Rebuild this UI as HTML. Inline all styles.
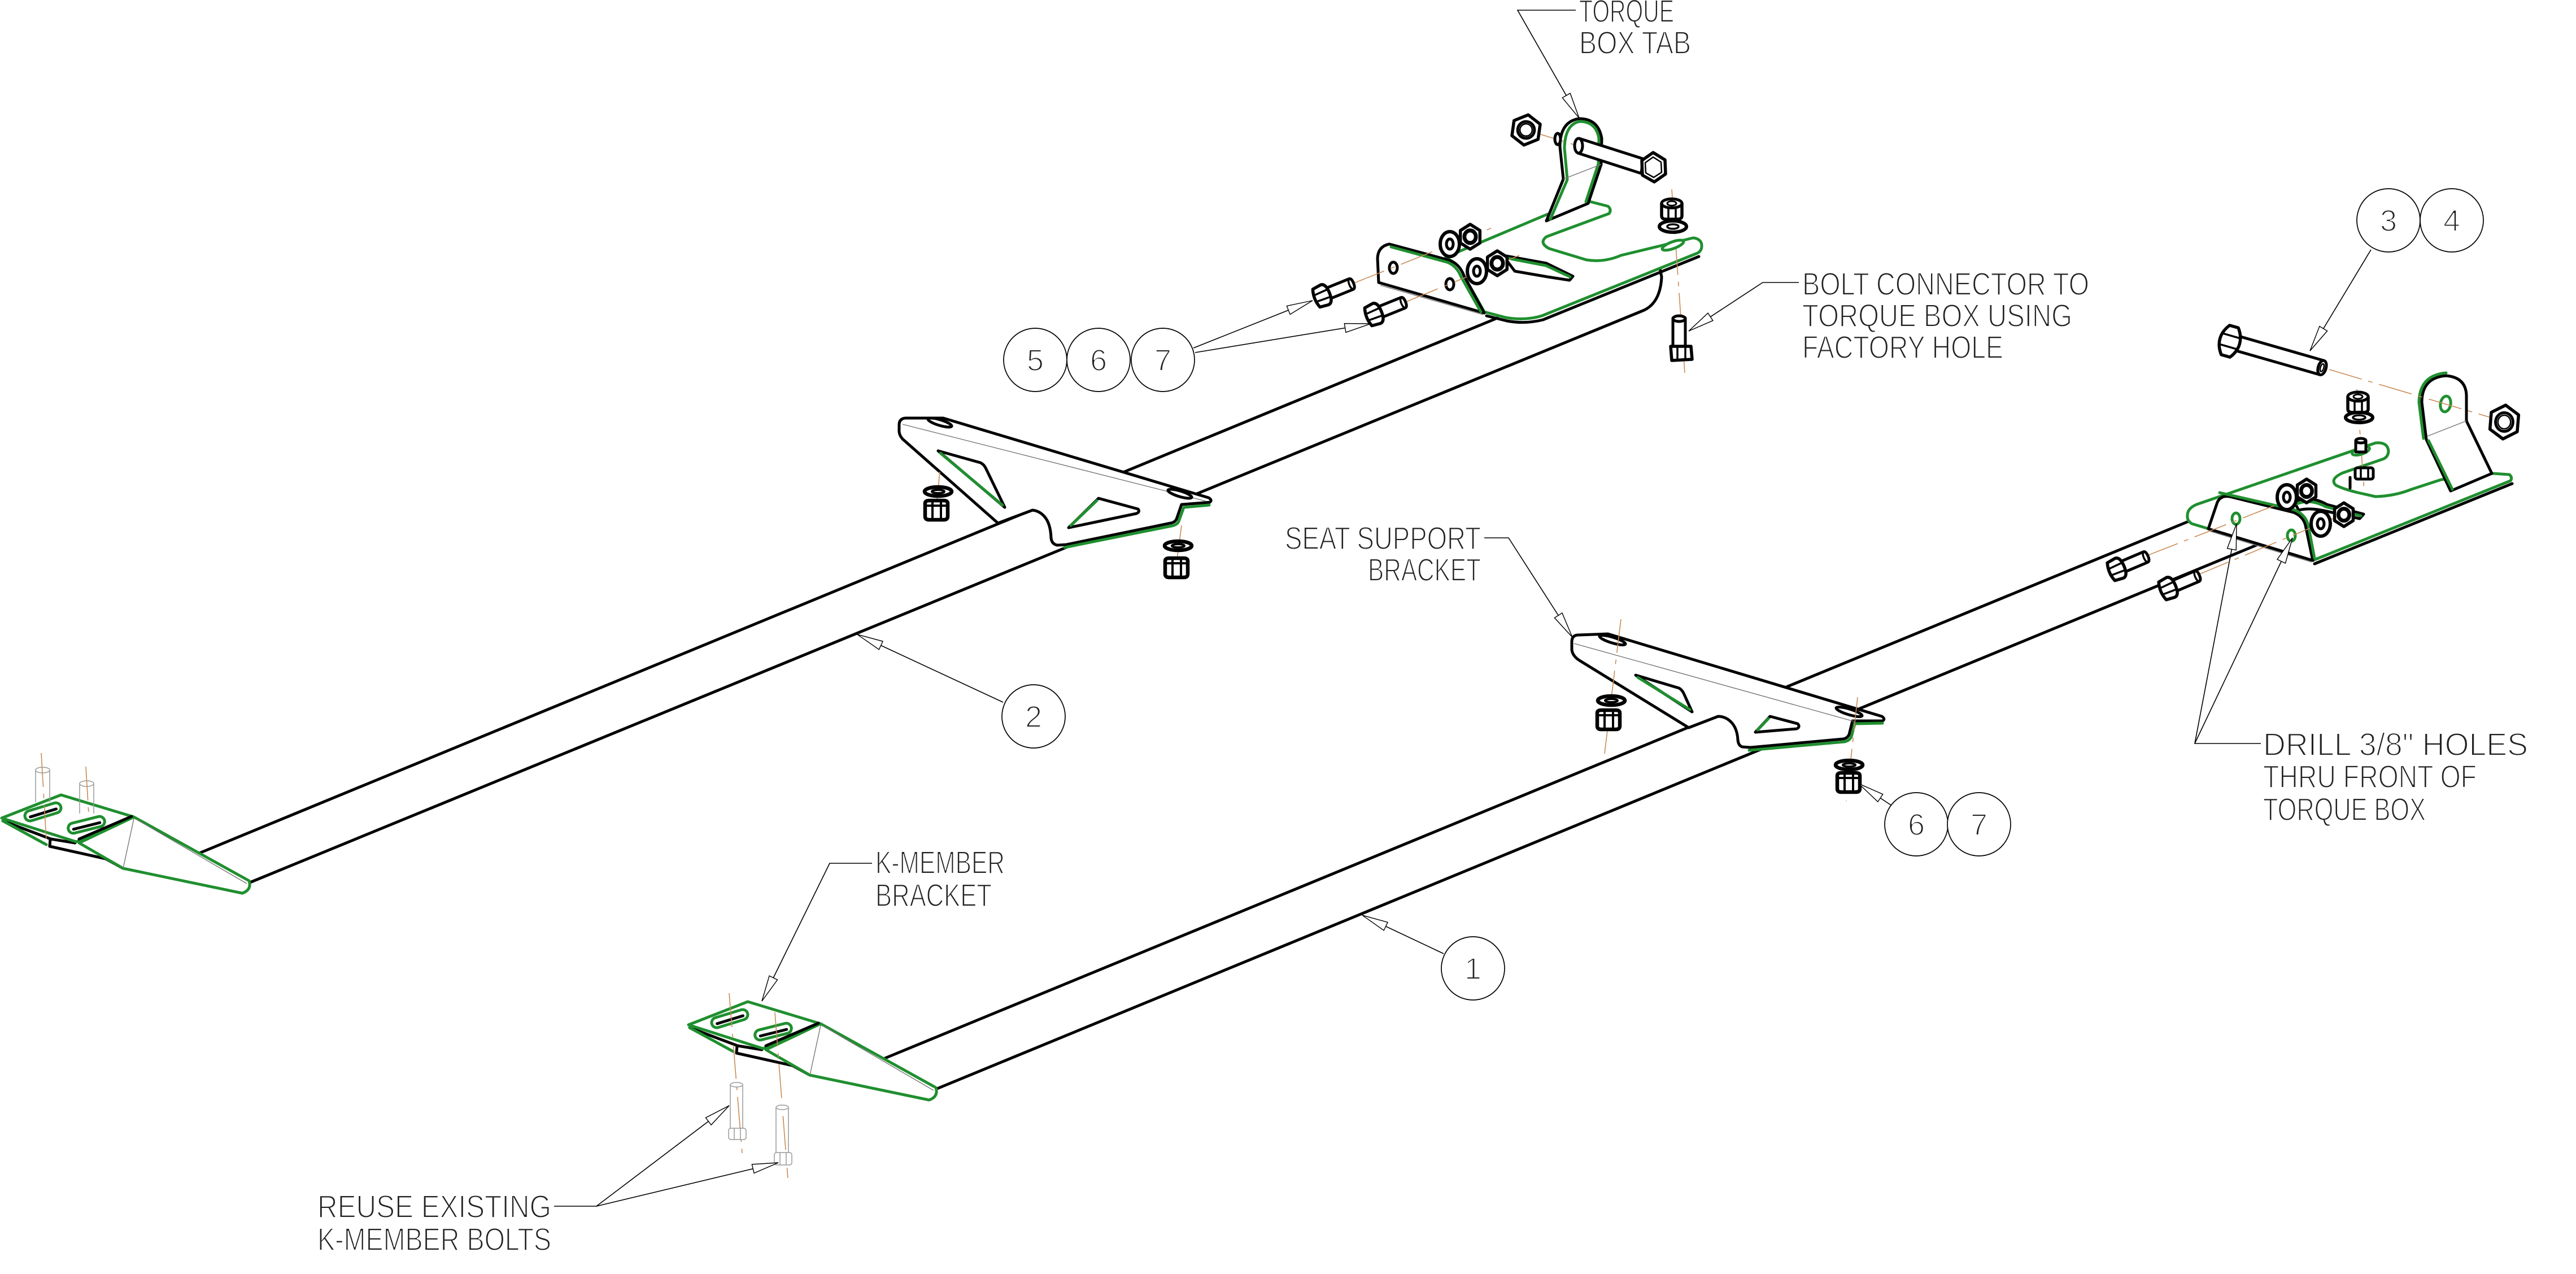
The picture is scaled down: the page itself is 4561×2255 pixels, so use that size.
<!DOCTYPE html>
<html><head><meta charset="utf-8">
<style>
html,body{margin:0;padding:0;background:#fff;}
svg{display:block;}
.k{fill:none;stroke:#000;stroke-width:5;stroke-linejoin:round;stroke-linecap:round;}
.kw{fill:#fff;stroke:#000;stroke-width:5;stroke-linejoin:round;}
.g{fill:none;stroke:#1f8f2f;stroke-width:5;stroke-linejoin:round;stroke-linecap:round;}
.gw{fill:#fff;stroke:#1f8f2f;stroke-width:5;stroke-linejoin:round;}
.th{fill:none;stroke:#777;stroke-width:1.4;}
.gr{fill:#fff;stroke:#999;stroke-width:1.5;}
.grl{fill:none;stroke:#999;stroke-width:1.5;}
.c{fill:none;stroke:#c98b55;stroke-width:1.6;stroke-dasharray:60 12 8 12;}
.ld{fill:none;stroke:#000;stroke-width:1.6;marker-start:url(#arr);}
.bal{fill:#fff;stroke:#000;stroke-width:1.7;}
.ns{vector-effect:non-scaling-stroke;}
text{font-family:"Liberation Sans",sans-serif;fill:#222;stroke:#fff;stroke-width:2;font-size:57px;}
text.d{font-size:54px;}
</style></head>
<body>
<svg width="4561" height="2255" viewBox="0 0 4561 2255" xmlns="http://www.w3.org/2000/svg">
<defs>
<marker id="arr" markerUnits="userSpaceOnUse" viewBox="-2 -12 54 24" refX="0" refY="0" markerWidth="54" markerHeight="24" orient="auto" overflow="visible">
<path d="M0,0 L46,-8 L46,8 Z" fill="#fff" stroke="#000" stroke-width="1.4"/>
</marker>
<g id="hex">
<polygon class="ns" points="0,-1 0.866,-0.5 0.866,0.5 0,1 -0.866,0.5 -0.866,-0.5" fill="#fff" stroke="#000" stroke-width="5.5" stroke-linejoin="round"/>
<circle class="ns" r="0.55" fill="none" stroke="#000" stroke-width="5"/>
<circle class="ns" r="0.4" fill="none" stroke="#000" stroke-width="2.5"/>
</g>
<g id="snut">
<path d="M-20,-12 Q-20,-17 -13,-17 L13,-17 Q20,-17 20,-12 L20,11 Q20,17 13,17 L-13,17 Q-20,17 -20,11 Z" class="kw" style="stroke-width:6.5"/>
<path d="M-7,-16 L-7,16 M8,-16 L8,16 M-19,-8 L19,-8" class="k" style="stroke-width:4"/>
</g>
<g id="wash">
<ellipse rx="24" ry="8" class="kw" style="stroke-width:6.5"/>
<ellipse rx="11" ry="3" class="k" style="stroke-width:4"/>
</g>
<g id="hbolt">
<path d="M8,-10 L56,-10 Q61,-10 61,0 Q61,10 56,10 L8,10 Z" class="kw"/>
<ellipse cx="57" rx="4" ry="10" class="k" style="stroke-width:3.5"/>
<path d="M-10,-17 L6,-19 Q15,-18 15,0 Q15,18 6,19 L-10,17 Q-16,0 -10,-17 Z" class="kw" style="stroke-width:5.5"/>
<path d="M-13,-6 L12,-7 M-13,6 L12,7" class="k" style="stroke-width:3.5"/>
</g>
<g id="wshf">
<ellipse rx="17" ry="22" class="kw" style="stroke-width:6"/>
<ellipse rx="6" ry="9" class="k" style="stroke-width:5"/>
</g>
<g id="kbr">
<path class="k" d="M5,1453 L90,1485 L133,1492"/>
<path class="k" d="M89,1485 L88,1498 L187,1520 L218,1537"/>
<path class="g" d="M5,1453 L82,1495"/>
<path class="gw" d="M237,1446 L441,1559 Q446,1575 429,1581 L218,1537 L140,1492 Z"/>
<path class="th" d="M237,1449 L218,1537 M241,1450 L437,1564"/>
<path class="gw" d="M3,1448 L108,1407 L237,1446 L135,1490 Z"/>
<path class="k" d="M140,1485 L233,1445"/>
<g transform="translate(76,1437) rotate(-17)"><rect x="-33" y="-9" width="66" height="18" rx="9" class="gw"/><line x1="-24" y1="2" x2="24" y2="2" class="k"/></g>
<g transform="translate(153,1460) rotate(-14)"><rect x="-33" y="-9" width="66" height="18" rx="9" class="gw"/><line x1="-24" y1="2" x2="24" y2="2" class="k"/></g>
</g>
</defs>

<!-- ===== TUBES ===== -->
<path class="k" d="M353,1510 L2651,563"/>
<path class="k" d="M440,1563 L2911,549 Q2940,535 2942,490 L2939,475"/>
<path class="k" d="M1567,1873 L3877,922"/>
<path class="k" d="M1659,1927 L3995,965"/>

<!-- ===== LEFT BRACKET (tube 2) ===== -->
<use href="#kbr"/>
<path class="grl" d="M63,1363 L63,1420 M88,1363 L88,1420"/><ellipse cx="75.5" cy="1363" rx="12.5" ry="5" class="gr"/>
<path class="grl" d="M141,1387 L141,1440 M166,1387 L166,1440"/><ellipse cx="153.5" cy="1387" rx="12.5" ry="5" class="gr"/>
<path class="c" d="M73,1333 L82,1487"/>
<path class="c" d="M152,1357 L157,1440"/>

<!-- ===== K-MEMBER BRACKET (tube 1) ===== -->
<use href="#kbr" transform="translate(1216,366)"/>
<path class="c" d="M1291,1758 L1314,2041"/>
<path class="c" d="M1372,1792 L1395,2085"/>
<path class="grl" d="M1293,1920 L1293,1997 M1315,1920 L1315,1997"/><ellipse cx="1304" cy="1920" rx="11" ry="4" class="gr"/>
<rect x="1290" y="1997" width="31" height="20" rx="4" class="gr"/><path class="grl" d="M1300,1997 L1300,2017 M1311,1997 L1311,2017"/>
<path class="grl" d="M1374,1960 L1374,2040 M1396,1960 L1396,2040"/><ellipse cx="1385" cy="1960" rx="11" ry="4" class="gr"/>
<rect x="1371" y="2040" width="31" height="22" rx="4" class="gr"/><path class="grl" d="M1381,2040 L1381,2062 M1392,2040 L1392,2062"/>

<!-- ===== SEAT BRACKET 1 ===== -->
<path class="kw" d="M1592,752 Q1592,741 1603,740 L1670,740 L2140,881 Q2147,885 2142,889 L2092,893 L2083,919 Q2080,925 2072,926 L1888,964 L1872,965 Q1862,963 1861,952 Q1860,926 1849,914 Q1840,904 1828,903 L1767,926 L1598,777 Q1591,769 1592,760 Z"/>
<path class="th" d="M1598,751 L2135,887"/>
<path class="g" d="M1885,969 L2074,931 Q2086,929 2088,920 L2096,898 L2141,894"/>
<ellipse cx="1664" cy="748" rx="22" ry="5" transform="rotate(17 1664 748)" class="kw"/>
<ellipse cx="2089" cy="874" rx="22" ry="5" transform="rotate(17 2089 874)" class="kw"/>
<path class="kw" d="M1661,798 L1736,819 Q1742,822 1745,828 L1779,898 Z"/>
<path class="g" d="M1665,802 L1775,894"/>
<path class="kw" d="M1945,882 L2015,901 Q2019,906 2012,909 L1892,934 Z"/>
<path class="g" d="M1942,886 L1896,930"/>
<path class="c" d="M1664,835 L1655,925"/>
<path class="c" d="M2092,930 L2080,1020"/>
<use href="#wash" x="1661" y="870"/>
<use href="#snut" x="1658" y="903"/>
<use href="#wash" x="2086" y="966"/>
<use href="#snut" x="2083" y="1005"/>

<!-- ===== SEAT BRACKET 2 ===== -->
<path class="kw" d="M2783,1136 Q2783,1125 2793,1124 L2847,1122 L3332,1268 Q3339,1273 3333,1276 L3280,1276 L3274,1300 Q3271,1307 3263,1308 L3099,1323 L3085,1322 Q3078,1320 3077,1310 Q3076,1290 3066,1279 Q3056,1268 3042,1268 L2990,1288 L2795,1168 Q2784,1160 2783,1150 Z"/>
<path class="th" d="M2787,1139 L3283,1277"/>
<path class="g" d="M3097,1328 L3265,1313 Q3277,1311 3279,1300 L3284,1281 L3333,1280"/>
<ellipse cx="2855" cy="1133" rx="24" ry="5" transform="rotate(17 2855 1133)" class="kw"/>
<ellipse cx="3274" cy="1260" rx="24" ry="5" transform="rotate(17 3274 1260)" class="kw"/>
<path class="kw" d="M2896,1195 L2973,1218 Q2978,1221 2981,1227 L2996,1260 Z"/>
<path class="g" d="M2900,1199 L2992,1256"/>
<path class="kw" d="M3134,1268 L3183,1281 Q3188,1287 3181,1290 L3108,1296 Z"/>
<path class="g" d="M3131,1272 L3112,1292"/>
<path class="c" d="M2870,1096 L2841,1334"/>
<path class="c" d="M3289,1234 L3269,1418"/>
<use href="#wash" x="2853" y="1240"/>
<use href="#snut" x="2848" y="1274"/>
<use href="#wash" x="3274" y="1354"/>
<use href="#snut" x="3273" y="1385"/>

<!-- ===== TOP-CENTER TORQUE BRACKET ===== -->
<path class="gw" d="M2560,455 L2738,380 L2812,356 L2847,365 Q2854,371 2849,378 L2738,419 Q2724,430 2743,440 L2809,460 Q2840,465 2870,452 L2998,421 Q3014,423 3013,437 Q3012,446 3003,449 L2730,559 Q2700,568 2666,562 L2628,552 L2592,488 Q2585,470 2570,462 Z"/>
<path class="k" d="M2632,559 L2668,568 Q2700,574 2732,566 L3008,454"/>
<path class="kw" d="M2661,452 L2738,466 L2785,489 L2779,496 L2740,490 L2682,480 Z"/>
<path class="g" d="M2664,456 L2737,470 L2780,490"/>
<path class="kw" d="M2738,391 L2768,317 L2762,260 Q2762,215 2796,210 Q2830,210 2836,245 L2835,291 L2812,360 Z"/>
<path class="g" d="M2745,388 L2775,318 L2770,262 Q2771,220 2797,215 Q2826,215 2831,245 L2830,290 L2808,357"/>
<path class="th" d="M2768,317 L2835,291"/>
<path class="kw" d="M2441,500 L2439,457 Q2440,436 2460,432 L2564,460 Q2584,466 2592,488 L2628,554 Z"/>
<path class="g" d="M2463,437 L2562,464 Q2579,470 2587,490 L2622,552"/>
<path class="th" d="M2444,505 L2626,557"/>
<ellipse cx="2467" cy="474" rx="7" ry="10" class="kw"/>
<ellipse cx="2567" cy="503" rx="7" ry="10" class="kw"/>
<!-- hardware -->
<path class="c" d="M2712,233 L2930,300"/>
<path class="c" d="M2395,502 L2650,400"/>
<path class="c" d="M2490,534 L2690,452"/>
<path class="c" d="M2960,335 L2983,660"/>
<use href="#hex" transform="translate(2702,230) scale(27) rotate(8)"/>
<ellipse cx="2758" cy="246" rx="5" ry="10" class="kw"/>
<polygon points="2796,245 2909,281 2906,307 2794,271" class="kw"/>
<ellipse cx="2795" cy="258" rx="7" ry="13" class="kw"/>
<g transform="translate(2927,296)"><polygon points="0,-26 21,-13 22,12 2,26 -19,14 -20,-12" class="kw" style="stroke-width:5.5"/><polygon points="0,-18 14,-9 15,9 1,18 -13,10 -14,-8" class="k" style="stroke-width:2.5"/></g>
<use href="#wshf" x="2567" y="432"/>
<use href="#hex" transform="translate(2603,419) scale(20,22)"/>
<use href="#wshf" x="2615" y="480"/>
<use href="#hex" transform="translate(2651,466) scale(20,22)"/>
<use href="#hbolt" transform="translate(2340,524) rotate(-22)"/>
<use href="#hbolt" transform="translate(2432,557) rotate(-22)"/>
<g transform="translate(2960,370)"><path d="M-18,-10 L-18,12 Q-18,18 -10,18 L10,18 Q18,18 18,12 L18,-10 Z" class="kw" style="stroke-width:5.5"/><ellipse cy="-10" rx="18" ry="8" class="kw"/><ellipse cy="-10" rx="8" ry="4" class="k" style="stroke-width:3"/><path d="M-6,-3 L-6,18 M7,-3 L7,18" class="k" style="stroke-width:3.5"/></g>
<g transform="translate(2962,401)"><ellipse rx="24" ry="10" class="kw" style="stroke-width:6"/><ellipse rx="10" ry="4" class="k" style="stroke-width:3.5"/></g>
<ellipse cx="2962" cy="434" rx="20" ry="6" transform="rotate(-20 2962 434)" class="gw"/>
<rect x="2962" y="563" width="22" height="52" class="kw"/>
<ellipse cx="2973" cy="564" rx="11" ry="5" class="kw"/>
<path d="M2958,613 L2994,613 L2996,636 L2960,638 Z" class="kw" style="stroke-width:5.5"/>
<path d="M2970,613 L2970,637 M2984,613 L2984,637" class="k" style="stroke-width:3.5"/>

<!-- ===== RIGHT TORQUE BRACKET ===== -->
<path class="gw" d="M3873,912 Q3873,900 3889,893 L4206,784 Q4228,782 4229,799 Q4228,810 4218,813 L4148,837 Q4124,848 4136,859 Q4150,866 4175,872 L4206,879 Q4240,878 4270,866 L4322,849 L4414,838 L4443,840 Q4449,845 4445,851 L4095,992 L3881,927 Q3872,922 3873,912 Z"/>
<path class="k" d="M4098,998 L4448,856"/>
<path class="kw" d="M4062,888 Q4090,876 4120,893 L4185,910 L4178,918 L4120,905 Q4090,898 4070,903 Z"/>
<path class="g" d="M4066,892 Q4090,882 4118,897 L4180,913"/>
<path class="kw" d="M4296,778 L4288,712 Q4288,668 4331,665 Q4366,668 4367,700 L4367,745 L4412,838 L4339,869 Z"/>
<path class="g" d="M4291,776 L4283,712 Q4284,664 4331,660"/>
<path class="g" d="M4300,780 L4342,866"/>
<path class="th" d="M4298,772 L4367,745"/>
<ellipse cx="4330" cy="715" rx="9" ry="14" transform="rotate(10 4330 715)" class="gw"/>
<path class="kw" d="M3910,936 L3926,889 Q3932,876 3948,879 L4061,907 Q4078,914 4082,930 L4095,992 Z"/>
<path class="g" d="M3930,872 L4061,902 Q4082,910 4087,930 L4098,988"/>
<path class="th" d="M3912,940 L4093,995"/>
<ellipse cx="3959" cy="918" rx="7" ry="10" class="gw"/>
<ellipse cx="4057" cy="948" rx="7" ry="10" class="gw"/>
<!-- hardware -->
<path class="c" d="M4124,654 L4447,750"/>
<path class="c" d="M4173,689 L4186,870"/>
<path class="c" d="M3800,984 L4065,880"/>
<path class="c" d="M3890,1018 L4150,910"/>
<g transform="translate(3948,604) rotate(16)">
<rect x="12" y="-13" width="158" height="26" class="kw"/>
<ellipse cx="170" rx="7" ry="13" class="kw"/>
<ellipse cx="170" rx="3" ry="7" class="k" style="stroke-width:2.5"/>
<path d="M-8,-27 L8,-27 Q18,-14 18,0 Q18,14 8,27 L-8,27 Q-18,14 -18,0 Q-18,-14 -8,-27 Z" class="kw" style="stroke-width:5.5"/>
<path d="M-16,-10 L16,-10 M-16,10 L16,10" class="k" style="stroke-width:3.5"/>
</g>
<use href="#hex" transform="translate(4434,747) scale(28,30) rotate(5)"/>
<g transform="translate(4175,712)"><path d="M-18,-10 L-18,12 Q-18,18 -10,18 L10,18 Q18,18 18,12 L18,-10 Z" class="kw" style="stroke-width:5.5"/><ellipse cy="-10" rx="18" ry="8" class="kw"/><ellipse cy="-10" rx="8" ry="4" class="k" style="stroke-width:3"/><path d="M-6,-3 L-6,18 M7,-3 L7,18" class="k" style="stroke-width:3.5"/></g>
<g transform="translate(4177,739)"><ellipse rx="24" ry="9" class="kw" style="stroke-width:6"/><ellipse rx="11" ry="4" class="k" style="stroke-width:3.5"/></g>
<ellipse cx="4180" cy="798" rx="16" ry="6" transform="rotate(-18 4180 798)" class="gw"/>
<rect x="4171" y="780" width="18" height="20" class="kw"/>
<ellipse cx="4180" cy="780" rx="9" ry="4" class="kw"/>
<path class="k" d="M4161,845 L4161,864"/>
<rect x="4170" y="828" width="32" height="20" rx="4" class="kw"/>
<path class="k" d="M4180,828 L4180,848 M4193,828 L4193,848" style="stroke-width:3.5"/>
<use href="#wshf" x="4049" y="880"/>
<use href="#hex" transform="translate(4084,869) scale(19,21)"/>
<use href="#wshf" x="4109" y="927"/>
<use href="#hex" transform="translate(4150,911) scale(19,21)"/>
<use href="#hbolt" transform="translate(3747,1008) rotate(-23)"/>
<use href="#hbolt" transform="translate(3838,1042) rotate(-23)"/>

<!-- ===== LEADERS ===== -->
<path class="ld" d="M2796,209 L2687,18 L2790,18"/>
<path class="ld" d="M2324,532 L2113,616"/>
<path class="ld" d="M2427,573 L2116,624"/>
<path class="ld" d="M1518,1123 L1776,1243"/>
<path class="ld" d="M2784,1128 L2671,952 L2628,952"/>
<path class="ld" d="M3291,1387 L3348,1425"/>
<path class="ld" d="M2412,1620 L2556,1688"/>
<path class="ld" d="M1349,1772 L1469,1528 L1544,1528"/>
<path class="ld" d="M1291,1957 L1056,2135 L981,2135"/>
<path class="ld" d="M1378,2058 L1056,2135"/>
<path class="ld" d="M2990,586 L3121,500 L3185,500"/>
<path class="ld" d="M4090,621 L4198,442"/>
<path class="ld" d="M3960,927 L3886,1316 L4003,1316"/>
<path class="ld" d="M4059,952 L3886,1316"/>

<!-- ===== BALLOONS ===== -->
<circle cx="1833" cy="637" r="56" class="bal"/>
<circle cx="1945" cy="637" r="56" class="bal"/>
<circle cx="2059" cy="637" r="56" class="bal"/>
<text class="d" x="1833" y="656" text-anchor="middle">5</text>
<text class="d" x="1945" y="656" text-anchor="middle">6</text>
<text class="d" x="2059" y="656" text-anchor="middle">7</text>
<circle cx="1830" cy="1268" r="56" class="bal"/>
<text class="d" x="1830" y="1287" text-anchor="middle">2</text>
<circle cx="2608" cy="1714" r="56" class="bal"/>
<text class="d" x="2608" y="1733" text-anchor="middle">1</text>
<circle cx="4229" cy="390" r="56" class="bal"/>
<circle cx="4341" cy="390" r="56" class="bal"/>
<text class="d" x="4229" y="409" text-anchor="middle">3</text>
<text class="d" x="4341" y="409" text-anchor="middle">4</text>
<circle cx="3393" cy="1459" r="56" class="bal"/>
<circle cx="3504" cy="1459" r="56" class="bal"/>
<text class="d" x="3393" y="1478" text-anchor="middle">6</text>
<text class="d" x="3504" y="1478" text-anchor="middle">7</text>

<!-- ===== LABELS ===== -->
<text x="2796" y="39" textLength="168" lengthAdjust="spacingAndGlyphs">TORQUE</text>
<text x="2796" y="95" textLength="198" lengthAdjust="spacingAndGlyphs">BOX TAB</text>
<text x="3191" y="522" textLength="508" lengthAdjust="spacingAndGlyphs">BOLT CONNECTOR TO</text>
<text x="3191" y="578" textLength="478" lengthAdjust="spacingAndGlyphs">TORQUE BOX USING</text>
<text x="3191" y="634" textLength="356" lengthAdjust="spacingAndGlyphs">FACTORY HOLE</text>
<text x="2275" y="972" textLength="347" lengthAdjust="spacingAndGlyphs">SEAT SUPPORT</text>
<text x="2422" y="1028" textLength="200" lengthAdjust="spacingAndGlyphs">BRACKET</text>
<text x="4007" y="1337" textLength="469" lengthAdjust="spacingAndGlyphs">DRILL 3/8" HOLES</text>
<text x="4007" y="1394" textLength="378" lengthAdjust="spacingAndGlyphs">THRU FRONT OF</text>
<text x="4007" y="1452" textLength="288" lengthAdjust="spacingAndGlyphs">TORQUE BOX</text>
<text x="1550" y="1546" textLength="229" lengthAdjust="spacingAndGlyphs">K-MEMBER</text>
<text x="1550" y="1604" textLength="206" lengthAdjust="spacingAndGlyphs">BRACKET</text>
<text x="562" y="2155" textLength="414" lengthAdjust="spacingAndGlyphs">REUSE EXISTING</text>
<text x="562" y="2213" textLength="414" lengthAdjust="spacingAndGlyphs">K-MEMBER BOLTS</text>
</svg>
</body></html>
